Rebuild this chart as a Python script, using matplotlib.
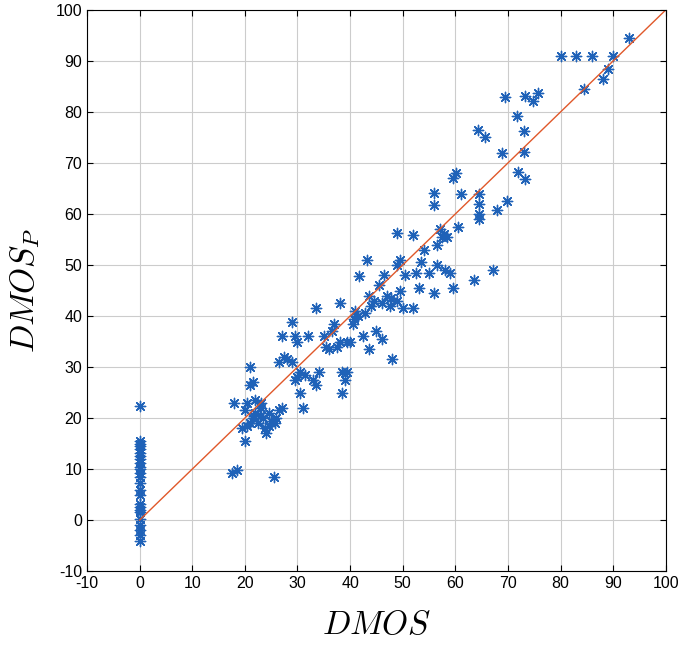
import numpy as np
import matplotlib.pyplot as plt

plt.rcParams['mathtext.fontset'] = 'cm'
plt.rcParams['axes.unicode_minus'] = False
plt.rcParams['font.family'] = ['Liberation Sans', 'DejaVu Sans']

# predicted vs. subjective scores (x = DMOS, y = DMOS_P)
zero_y = [22.3, 15.6, 15.0, 14.5, 14.0, 13.2, 12.5, 12.0, 11.2, 10.5, 10.0, 9.2,
          8.5, 7.2, 6.0, 5.0, 3.2, 2.5, 2.0, 1.5, 0.2, -1.0, -2.0, -3.0, -4.0]
dmos = [17.5, 18.5, 25.5, 18.0, 20.0, 20.5, 21.0, 21.5, 22.0, 22.5, 23.0, 23.5,
        24.0, 24.5, 25.0, 26.0, 27.0, 19.5, 20.5, 21.0, 21.5, 21.0, 22.0, 23.0,
        26.5, 24.5, 21.8, 20.0, 27.0, 28.0, 28.9, 29.5, 30.0, 26.5, 27.5, 29.5,
        30.0, 30.5, 31.0, 30.5, 32.0, 33.5, 33.0, 34.0, 33.5, 35.0, 35.5, 36.5,
        37.0, 37.5, 38.0, 38.0, 38.5, 38.5, 39.5, 39.0, 39.5, 40.0, 40.5, 41.0,
        41.5, 41.6, 42.5, 43.3, 43.5, 43.5, 44.0, 44.5, 45.0, 45.5, 46.0, 46.5,
        46.0, 47.0, 47.5, 48.0, 49.0, 49.0, 49.0, 49.5, 49.5, 50.0, 50.5, 51.9,
        52.0, 52.5, 53.0, 53.5, 54.0, 55.0, 55.9, 55.9, 56.0, 56.5, 56.5, 57.0,
        57.5, 58.0, 58.5, 59.0, 59.5, 59.5, 60.1, 60.5, 61.0, 63.5, 64.3, 64.5,
        64.5, 64.5, 64.5, 65.6, 67.1, 67.9, 68.8, 69.4, 69.8, 71.7, 71.9, 73.2,
        73.0, 73.0, 73.2, 74.7, 75.7, 80.0, 83.0, 84.5, 86.0, 88.0, 89.0, 90.0,
        93.0, 22.8, 23.8, 25.8, 36.0, 40.8, 42.8, 47.8, 29.0, 31.5, 57.8]
dmos_p = [9.2, 9.8, 8.5, 23.0, 15.5, 18.5, 19.0, 20.0, 21.0, 19.0, 22.0, 20.0,
          17.0, 21.0, 19.5, 20.0, 22.0, 18.0, 23.0, 26.5, 27.0, 30.0, 23.5, 23.0,
          21.5, 18.5, 20.5, 21.5, 36.0, 31.5, 38.8, 36.0, 35.0, 31.0, 32.0, 27.5,
          28.0, 25.0, 22.0, 29.0, 36.0, 41.6, 27.5, 29.0, 26.5, 36.0, 34.0, 37.0,
          38.5, 34.0, 42.5, 35.0, 29.0, 25.0, 35.0, 27.5, 29.0, 35.0, 38.5, 41.0,
          40.0, 47.8, 36.0, 51.0, 33.5, 44.0, 42.0, 43.0, 37.0, 46.0, 35.5, 48.0,
          42.5, 44.0, 42.0, 31.5, 56.3, 43.0, 50.0, 51.0, 45.0, 41.5, 48.0, 55.9,
          41.5, 48.5, 45.5, 50.5, 53.0, 48.5, 64.1, 61.8, 44.5, 54.0, 50.0, 57.0,
          55.5, 49.0, 55.5, 48.5, 45.5, 67.0, 68.0, 57.5, 64.0, 47.0, 76.5, 64.0,
          62.0, 60.0, 59.0, 75.1, 49.0, 60.8, 72.0, 82.9, 62.5, 79.2, 68.2, 83.1,
          76.3, 72.2, 66.9, 82.2, 83.7, 91.0, 91.0, 84.5, 91.0, 86.5, 88.5, 91.0,
          94.5, 20.5, 18.0, 19.0, 33.5, 39.5, 40.5, 43.5, 31.0, 28.5, 56.0]

fig = plt.figure(figsize=(6.85, 6.58), dpi=100)
ax = fig.add_axes([0.127, 0.132, 0.845, 0.853])

ax.scatter(np.zeros(len(zero_y)), zero_y, marker=(8, 2, 0), s=55,
           color='#1f62b8', linewidths=1.0)
ax.scatter(dmos, dmos_p, marker=(8, 2, 0), s=55, color='#1f62b8', linewidths=1.0)
ax.plot([0, 100], [0, 100], color='#e0582a', linewidth=1.0)

ax.set_xlim(-10, 100)
ax.set_ylim(-10, 100)
ax.set_xticks(np.arange(-10, 101, 10))
ax.set_yticks(np.arange(-10, 101, 10))
ax.grid(True, color='#cccccc', linewidth=0.8)
ax.set_axisbelow(True)
ax.tick_params(direction='in', top=True, right=True, labelsize=11.5, length=4)
for s in ax.spines.values():
    s.set_linewidth(0.8)

ax.set_xlabel('$DMOS$', fontsize=24, labelpad=14)
ax.set_ylabel('$DMOS_P$', fontsize=24, labelpad=10)

fig.savefig('out.png', dpi=100)
